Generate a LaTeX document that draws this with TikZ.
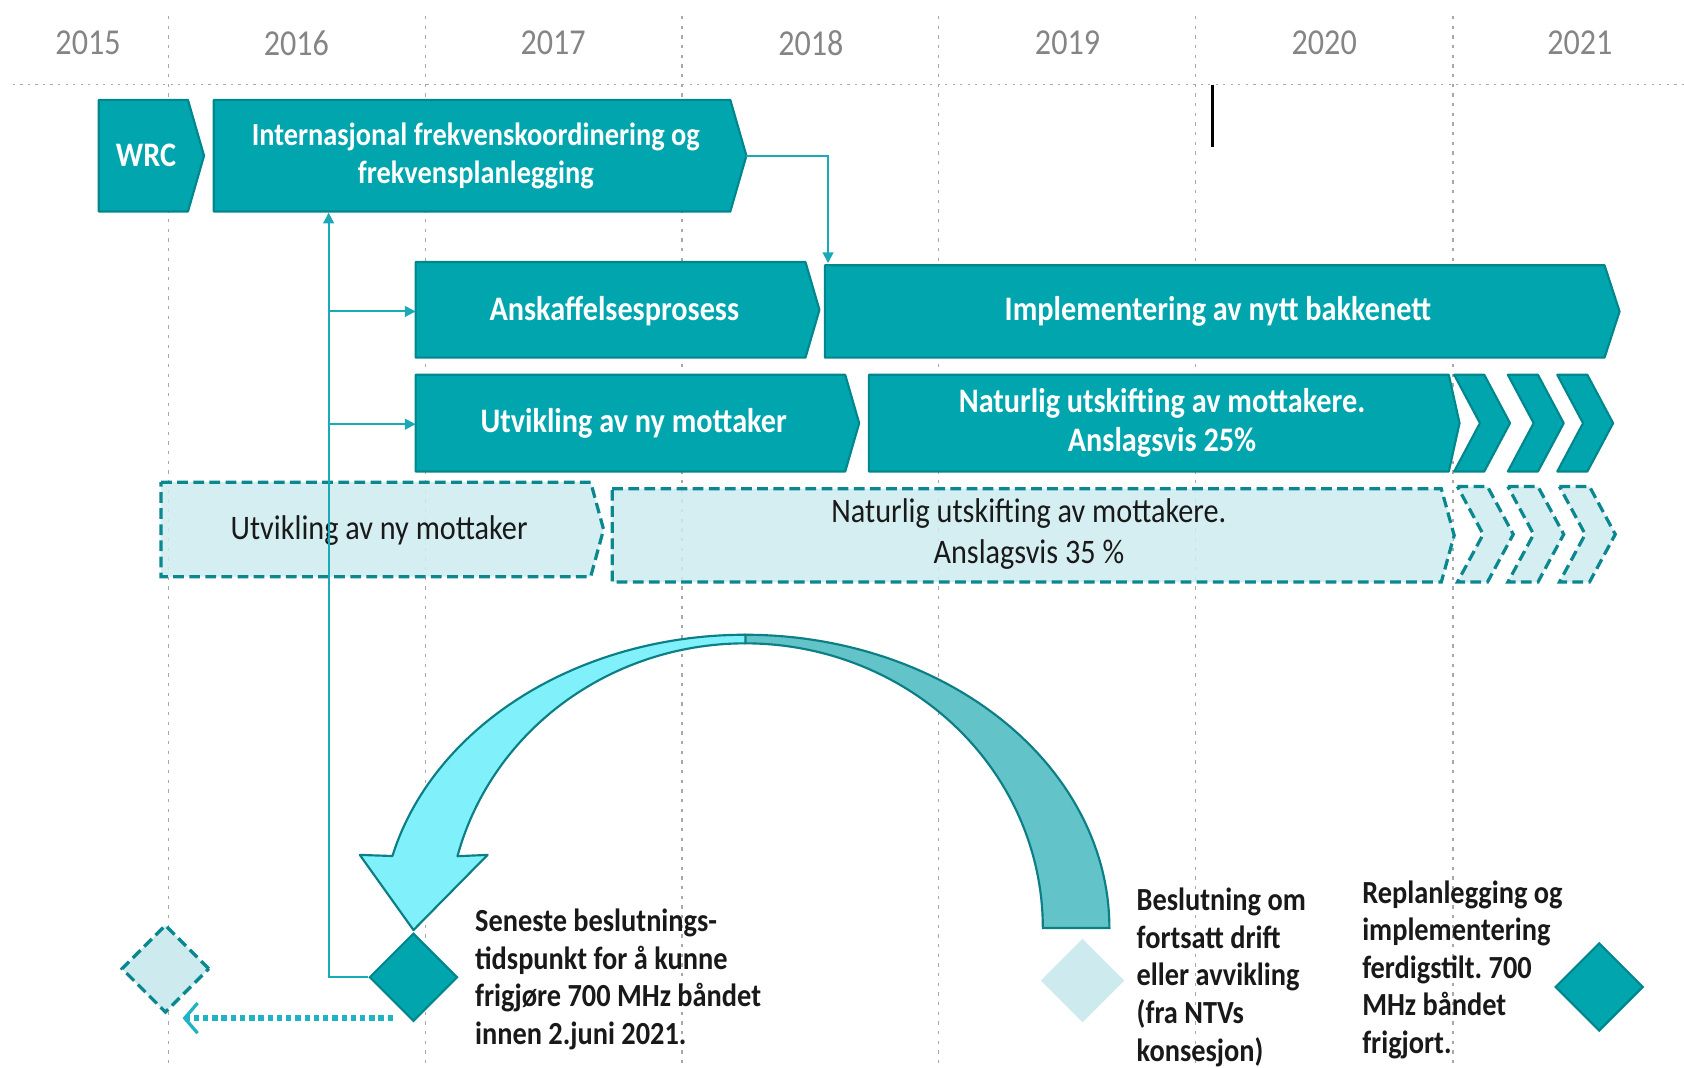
\documentclass[tikz,border=0pt]{standalone}
\usepackage{fontspec}
\setmainfont[FakeStretch=0.88]{Carlito}
\usetikzlibrary{arrows.meta,shapes.geometric}
\frenchspacing
\definecolor{teal1}{HTML}{00A5AE}
\definecolor{tealE}{HTML}{00878E}
\definecolor{light1}{HTML}{CDEBEF}
\definecolor{dashE}{HTML}{0B8790}
\definecolor{conn1}{HTML}{1AAAB7}
\definecolor{arcL}{HTML}{80F0FA}
\definecolor{arcD}{HTML}{62C4C9}
\definecolor{arcE}{HTML}{0C7E85}
\definecolor{yeargray}{HTML}{858585}
\definecolor{gridgray}{HTML}{A8A8A8}
\definecolor{dotcyan}{HTML}{20B3C3}
\newcommand\mypent[6]{\path[#6] ({#1},{#4}) -- ({#2},{#4}) -- ({#3},{(#4+#5)/2}) -- ({#2},{#5}) -- ({#1},{#5}) -- cycle;}
\newcommand\mychev[4]{\path[#4] ({#1},{#2}) -- ({#1+28},{#2}) -- ({#1+52},{(#2+#3)/2}) -- ({#1+28},{#3}) -- ({#1},{#3}) -- ({#1+24},{(#2+#3)/2}) -- cycle;}
\begin{document}
\frenchspacing
\begin{tikzpicture}[x=0.5pt,y=-0.5pt,
 solidbox/.style={fill=teal1, draw=tealE, line width=1pt, line join=round},
 dashbox/.style={fill=light1, fill opacity=0.85, draw=dashE, line width=1.5pt, dash pattern=on 5pt off 2.5pt},
 boxtext/.style={text=white, font=\fontsize{16}{18}\selectfont\bfseries\frenchspacing, align=center, inner sep=0pt},
 dashtext/.style={text=black!90, font=\fontsize{16}{19}\selectfont\frenchspacing, align=center, inner sep=0pt},
 notetext/.style={text=black!90, font=\fontsize{15}{17.5}\selectfont\bfseries\frenchspacing, align=left, anchor=west, inner sep=0pt},
 yeartext/.style={text=yeargray, font=\fontsize{17}{20}\selectfont},
 gridline/.style={gridgray, line width=0.6pt, dash pattern=on 1.5pt off 3pt},
 conn/.style={conn1, line width=0.9pt},
 tip/.style={-{Triangle[length=5pt,width=5pt]}},
 dotarrow/.style={dotcyan, line width=3pt, dash pattern=on 2.5pt off 1.8pt, -{Straight Barb[length=6pt,width=14pt,line width=1.5pt]}},
 milestone/.style={diamond, aspect=1, minimum size=41pt, inner sep=0pt}
]
\useasboundingbox (0,0) rectangle (1568,994.4);
% grid
\foreach \gx in {157,396,635,874,1113,1353} {\draw[gridline] (\gx,15) -- (\gx,994);}
\draw[gridline, dash pattern=on 1pt off 2.5pt] (12,79) -- (1568,79);
% years
\node[yeartext] (y15) at (82,40) {2015};
\node[yeartext] (y16) at (276,40) {2016};
\node[yeartext] (y17) at (515,40) {2017};
\node[yeartext] (y18) at (755,40) {2018};
\node[yeartext] (y19) at (994,40) {2019};
\node[yeartext] (y20) at (1233,40) {2020};
\node[yeartext] (y21) at (1471,40) {2021};
\coordinate (bl1) at (1129,79);
\coordinate (bl2) at (1129,137);
\draw[black, line width=1.2pt] (bl1) -- (bl2);
% solid boxes
\mypent{92}{175}{190}{93}{197}{solidbox}
\node[boxtext] (wrc) at (136,145) {WRC};
\mypent{199}{680}{695}{93}{197}{solidbox}
\node[boxtext, font=\fontsize{15}{17.5}\selectfont\bfseries] (intl) at (443,145) {Internasjonal frekvenskoordinering og\\frekvensplanlegging};
\mypent{387}{750}{763}{244}{333}{solidbox}
\node[boxtext] (ansk) at (572,290) {Anskaffelsesprosess};
\mypent{768}{1494}{1508}{247}{333}{solidbox}
\node[boxtext] (impl) at (1134,290) {Implementering av nytt bakkenett};
\mypent{387}{787}{800}{349}{439}{solidbox}
\node[boxtext] (utv) at (590,394) {Utvikling av ny mottaker};
\mypent{809}{1349}{1359}{349}{439}{solidbox}
\node[boxtext] (nat) at (1082,394) {Naturlig utskifting av mottakere.\\Anslagsvis 25\%};
\mychev{1354}{349}{439}{solidbox}
\mychev{1404}{349}{439}{solidbox}
\mychev{1450}{349}{439}{solidbox}
% dashed boxes
\mypent{150}{550}{562}{449}{537}{dashbox}
\node[dashtext] (utvd) at (353,494) {Utvikling av ny mottaker};
\mypent{570}{1342}{1354}{455}{542}{dashbox}
\node[dashtext] (natd) at (958,497) {Naturlig utskifting av mottakere.\\Anslagsvis 35 \%};
\mychev{1357}{453}{542}{dashbox}
\mychev{1404}{453}{542}{dashbox}
\mychev{1452}{453}{542}{dashbox}
% connectors
\coordinate (intlTip) at (695,145);
\coordinate (implTop) at (771,245);
\draw[conn,tip] (intlTip) -| (implTop);
\node[milestone, fill=teal1, draw=tealE, line width=1pt] (dia1) at (385,910) {};
\coordinate (spineTop) at (306,198);
\coordinate (spineBot) at (306,910);
\coordinate (spineA) at (306,290);
\coordinate (spineB) at (306,395);
\coordinate (anskIn) at (387,290);
\coordinate (utvIn) at (387,395);
\draw[conn,tip] (dia1.west) -- (spineBot) -- (spineTop);
\draw[conn,tip] (spineA) -- (anskIn);
\draw[conn,tip] (spineB) -- (utvIn);
% curved arrow
\path[fill=arcD, draw=arcE, line width=1pt] plot[domain=0:90, samples=60] ({694+339*cos(\x)},{864-273*sin(\x)}) -- plot[domain=90:0, samples=60] ({694+277*cos(\x)},{864-265*sin(\x)}) -- cycle;
\path[fill=arcL, draw=arcE, line width=1pt, line join=round] plot[domain=90:165.8, samples=60] ({694+339*cos(\x)},{864-273*sin(\x)}) -- (335,796) -- (385,866) -- (454,796) -- plot[domain=165.4:90, samples=60] ({694+277*cos(\x)},{864-265*sin(\x)}) -- cycle;
% milestones
\node[milestone, fill=light1, draw=dashE, line width=1.5pt, dash pattern=on 5pt off 2.5pt] (dia0) at (154,902) {};
\node[milestone, fill=light1, minimum size=39pt] (dia2) at (1008,913) {};
\node[milestone, fill=teal1, draw=tealE, line width=1pt] (dia3) at (1489,919) {};
\coordinate (dotS) at (366,948);
\coordinate (dotE) at (170,948);
\draw[dotarrow] (dotS) -- (dotE);
% notes
\node[notetext] (sen) at (442,912) {Seneste beslutnings-\\tidspunkt for å kunne\\frigjøre 700 MHz båndet\\innen 2.juni 2021.};
\node[notetext] (bes) at (1058,910) {Beslutning om\\fortsatt drift\\eller avvikling\\(fra NTVs\\konsesjon)};
\node[notetext] (rep) at (1268,903) {Replanlegging og\\implementering\\ferdigstilt. 700\\MHz båndet\\frigjort.};
\end{tikzpicture}
\end{document}
